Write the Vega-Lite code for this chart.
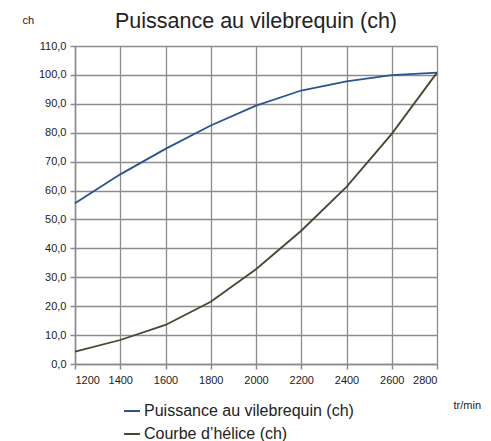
{
  "$schema": "https://vega.github.io/schema/vega-lite/v6.json",
  "autosize": {"type": "none"},
  "width": 362,
  "height": 318,
  "padding": {"left": 75, "top": 46, "right": 54, "bottom": 77},
  "background": "white",
  "config": {
    "locale": {"number": {"decimal": ",", "thousands": " ", "grouping": [3], "currency": ["", " €"]}},
    "font": "Liberation Sans",
    "view": {"stroke": null}
  },
  "title": {"text": "Puissance au vilebrequin (ch)", "fontSize": 21.5, "fontWeight": "normal", "color": "#222222", "anchor": "middle", "offset": -18, "font": "Liberation Sans"},
  "data": {"values": [
    {"rpm": 1200, "serie": "Puissance au vilebrequin (ch)", "ch": 55.6},
    {"rpm": 1400, "serie": "Puissance au vilebrequin (ch)", "ch": 65.6},
    {"rpm": 1600, "serie": "Puissance au vilebrequin (ch)", "ch": 74.4},
    {"rpm": 1800, "serie": "Puissance au vilebrequin (ch)", "ch": 82.5},
    {"rpm": 2000, "serie": "Puissance au vilebrequin (ch)", "ch": 89.4},
    {"rpm": 2200, "serie": "Puissance au vilebrequin (ch)", "ch": 94.6},
    {"rpm": 2400, "serie": "Puissance au vilebrequin (ch)", "ch": 97.8},
    {"rpm": 2600, "serie": "Puissance au vilebrequin (ch)", "ch": 99.9},
    {"rpm": 2800, "serie": "Puissance au vilebrequin (ch)", "ch": 100.8},
    {"rpm": 1200, "serie": "Courbe d’hélice (ch)", "ch": 4.3},
    {"rpm": 1400, "serie": "Courbe d’hélice (ch)", "ch": 8.3},
    {"rpm": 1600, "serie": "Courbe d’hélice (ch)", "ch": 13.5},
    {"rpm": 1800, "serie": "Courbe d’hélice (ch)", "ch": 21.5},
    {"rpm": 2000, "serie": "Courbe d’hélice (ch)", "ch": 32.8},
    {"rpm": 2200, "serie": "Courbe d’hélice (ch)", "ch": 46.1},
    {"rpm": 2400, "serie": "Courbe d’hélice (ch)", "ch": 61.3},
    {"rpm": 2600, "serie": "Courbe d’hélice (ch)", "ch": 79.6},
    {"rpm": 2800, "serie": "Courbe d’hélice (ch)", "ch": 100.8}
  ]},
  "mark": {"type": "line", "strokeWidth": 1.8},
  "encoding": {
    "x": {"field": "rpm", "type": "quantitative",
      "scale": {"domain": [1200, 2800], "nice": false, "zero": false},
      "axis": {"values": [1200, 1400, 1600, 1800, 2000, 2200, 2400, 2600, 2800], "format": "d",
        "title": "tr/min", "titleFontSize": 11, "titleFontWeight": "normal", "titleColor": "#222222",
        "titleAlign": "left", "titleAnchor": null, "titleX": 378, "titleY": 41, "titleBaseline": "middle",
        "labelFontSize": 11, "labelColor": "#222222", "labelPadding": 5,
        "domainColor": "#8c8c8c", "domainWidth": 1.5, "tickColor": "#8c8c8c", "tickSize": 5, "tickWidth": 1.5,
        "gridColor": "#8c8c8c", "gridOpacity": 1, "gridWidth": 1.3}},
    "y": {"field": "ch", "type": "quantitative",
      "scale": {"domain": [0, 110], "nice": false},
      "axis": {"values": [0, 10, 20, 30, 40, 50, 60, 70, 80, 90, 100, 110], "format": ".1f",
        "title": "ch", "titleAngle": 0, "titleFontSize": 11, "titleFontWeight": "normal", "titleColor": "#222222",
        "titleAlign": "left", "titleAnchor": null, "titleX": -53, "titleY": -26, "titleBaseline": "middle",
        "labelFontSize": 11, "labelColor": "#222222", "labelPadding": 4,
        "domainColor": "#8c8c8c", "domainWidth": 1.5, "tickColor": "#8c8c8c", "tickSize": 5, "tickWidth": 1.5,
        "gridColor": "#8c8c8c", "gridOpacity": 1, "gridWidth": 1.3}},
    "color": {"field": "serie", "type": "nominal",
      "scale": {"domain": ["Puissance au vilebrequin (ch)", "Courbe d’hélice (ch)"], "range": ["#2a5491", "#4a4430"]},
      "legend": {"title": null, "orient": "none", "legendX": 48, "legendY": 356, "direction": "vertical",
        "symbolType": "stroke", "symbolSize": 250, "symbolStrokeWidth": 2, "labelLimit": 0,
        "labelFontSize": 16, "labelColor": "#222222", "rowPadding": 6, "labelOffset": 3}}
  }
}
